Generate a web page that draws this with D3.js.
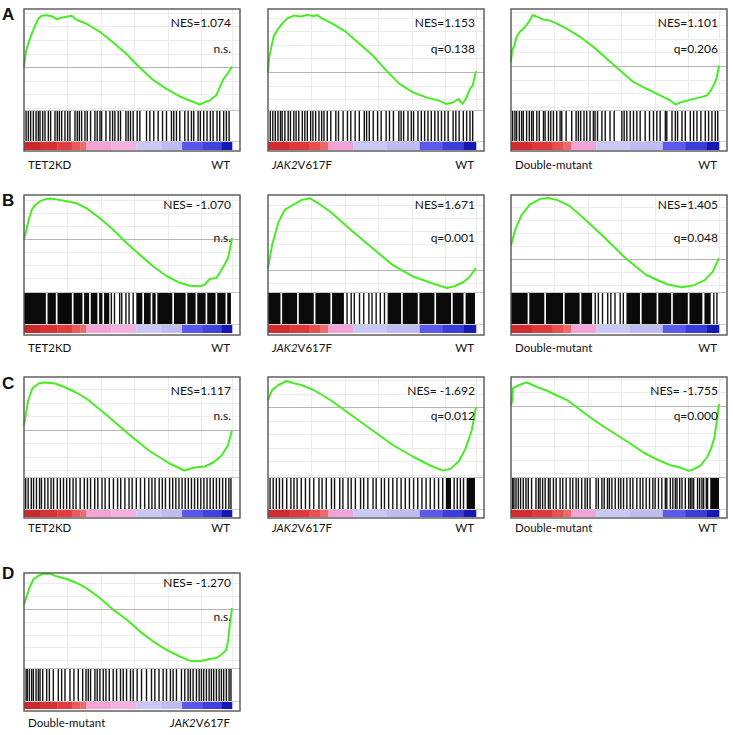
<!DOCTYPE html>
<html>
<head>
<meta charset="utf-8">
<script src="https://cdn.jsdelivr.net/npm/d3@7"></script>
<style>
  body { margin: 0; background: #fff; }
  svg { display: block; }
</style>
</head>
<body>
<div id="chart"></div>
<script>
// GSEA enrichment plots, 4 rows (A-D) x up to 3 columns.
// Running enrichment score: [rank percentile, ES]

const esA1 = [[0,0],[1,0.16],[2,0.23],[3.7,0.33],[5.3,0.41],[6.9,0.48],[8.5,0.51],[10.9,0.515],[13.3,0.505],[15.7,0.475],[18,0.49],[20.5,0.5],[22.9,0.51],[25.3,0.47],[30,0.43],[36.5,0.35],[42.9,0.245],[49.3,0.13],[55.7,-0.005],[62,-0.125],[68.5,-0.215],[74.9,-0.29],[79.7,-0.33],[84.5,-0.37],[86.9,-0.345],[89.3,-0.33],[92.5,-0.275],[95.7,-0.125],[98.1,-0.055],[100,0.005]];
const esA2 = [[0,0],[0.6,0.15],[1.6,0.25],[2.7,0.35],[4.4,0.415],[6.8,0.48],[9.2,0.53],[12.4,0.56],[15.6,0.55],[18.9,0.565],[22.1,0.555],[23.7,0.565],[26.1,0.53],[31,0.48],[37.4,0.4],[43.9,0.28],[50.3,0.166],[56.8,0.017],[63.2,-0.116],[69.7,-0.2],[76.1,-0.25],[81.8,-0.28],[85.8,-0.315],[89,-0.3],[91.5,-0.266],[93.5,-0.315],[95.5,-0.25],[97.1,-0.166],[98.4,-0.133],[100,0.01]];
const esA3 = [[0,0.04],[0.5,0.156],[1.4,0.19],[2.7,0.29],[4.3,0.34],[5.9,0.37],[7.5,0.405],[9.1,0.455],[10.4,0.505],[12.4,0.49],[15.6,0.46],[18.8,0.45],[22,0.42],[26.8,0.37],[33.2,0.29],[39.6,0.19],[46.1,0.073],[52.5,-0.043],[58.9,-0.16],[65.3,-0.226],[71.7,-0.29],[76.6,-0.34],[79,-0.38],[83,-0.35],[87.8,-0.325],[91,-0.31],[94.2,-0.29],[96.1,-0.24],[97.8,-0.176],[99,-0.11],[100,0.007]];
const esB1 = [[0,0],[1,0.08],[2,0.18],[3.7,0.3],[5.3,0.35],[7.7,0.39],[10,0.41],[12.5,0.42],[15.7,0.41],[20.5,0.39],[25.3,0.37],[30,0.32],[36.5,0.216],[42.9,0.096],[49.3,-0.04],[55.7,-0.16],[62,-0.28],[68.5,-0.38],[74.9,-0.45],[79.7,-0.48],[84.5,-0.486],[86.9,-0.47],[89.3,-0.41],[92.5,-0.4],[94,-0.35],[96.5,-0.26],[98.1,-0.195],[99,-0.11],[100,0.01]];
const esB2 = [[0,0.02],[2,0.26],[5,0.49],[8,0.62],[12,0.67],[16,0.72],[20,0.74],[24,0.69],[30,0.6],[40,0.41],[50,0.23],[60,0.05],[70,-0.07],[80,-0.144],[86,-0.186],[90,-0.165],[94,-0.124],[97,-0.07],[100,0.02]];
const esB3 = [[0,0.14],[2,0.3],[5,0.45],[9,0.56],[14,0.62],[18,0.63],[22,0.61],[28,0.55],[35,0.42],[45,0.22],[55,0.01],[65,-0.165],[75,-0.26],[82,-0.29],[88,-0.27],[93,-0.22],[97,-0.13],[100,0.01]];
const esC1 = [[0,0.04],[2,0.29],[4,0.41],[7,0.46],[10,0.47],[15,0.46],[20,0.42],[25,0.37],[30,0.31],[40,0.14],[50,-0.04],[60,-0.21],[70,-0.34],[77,-0.41],[82,-0.38],[87,-0.37],[91,-0.33],[95,-0.26],[98,-0.16],[100,-0.01]];
const esC2 = [[0,0.07],[2,0.17],[5,0.22],[9,0.26],[12,0.24],[16,0.22],[22,0.17],[30,0.07],[40,-0.08],[50,-0.23],[60,-0.38],[70,-0.5],[78,-0.585],[84,-0.636],[88,-0.616],[92,-0.535],[95,-0.414],[98,-0.23],[100,0]];
const esC3 = [[0,0],[0.6,0.05],[1,0.175],[3.5,0.2],[5.9,0.22],[7.5,0.23],[9.9,0.21],[12.4,0.185],[17.2,0.15],[22,0.1],[26.8,0.057],[31.6,-0.017],[38,-0.117],[44.5,-0.21],[50.9,-0.295],[57.3,-0.38],[63.7,-0.47],[70.1,-0.54],[76.6,-0.597],[81.4,-0.62],[85.4,-0.654],[87.8,-0.637],[91,-0.604],[94.2,-0.52],[96.1,-0.436],[97.8,-0.32],[99,-0.15],[100,0.017]];
const esD1 = [[0,0.046],[1.3,0.133],[2.9,0.24],[4.5,0.31],[6.9,0.35],[9.3,0.37],[12.5,0.37],[15.7,0.344],[20.5,0.316],[25.3,0.274],[30,0.22],[36.5,0.116],[42.9,-0.007],[49.3,-0.11],[55.7,-0.235],[62,-0.34],[68.5,-0.43],[74.9,-0.5],[79.7,-0.544],[84.5,-0.55],[89.3,-0.526],[92.5,-0.516],[94.9,-0.48],[97.3,-0.43],[98.2,-0.32],[98.9,-0.18],[100,0.01]];

// ES axis range shown in each plot [bottom, top]
const esDomains = {
  A1: [-0.424, 0.576], A2: [-0.375, 0.625], A3: [-0.435, 0.565],
  B1: [-0.545, 0.455], B2: [-0.227, 0.773], B3: [-0.34, 0.66],
  C1: [-0.475, 0.525], C2: [-0.70, 0.30], C3: [-0.715, 0.285],
  D1: [-0.621, 0.379]
};

// Hit positions (rank percentile); [from, to] = solid run of hits
const hitsA1 = [1.0,2.1,3.2,4.5,5.8,6.9,7.7,9.0,10.1,11.7,12.8,14.9,16.0,17.0,18.1,19.7,21.0,22.1,24.5,25.6,26.6,27.7,29.3,30.4,32.0,34.1,35.2,36.5,37.3,39.4,41.3,42.6,43.7,45.3,46.4,49.0,50.1,51.2,52.5,54.4,55.7,58.9,60.5,62.4,64.5,66.6,68.5,70.9,72.0,73.3,74.9,77.3,78.9,80.5,81.6,83.7,84.8,86.4,88.0,89.6,90.9,92.8,94.1,96.0,97.3,98.6];
const hitsA2 = [1.1,2.3,3.5,4.8,6.0,6.8,8.1,9.7,10.8,12.4,13.5,14.8,16.5,17.7,18.9,20.5,21.6,22.9,24.5,25.8,26.9,28.5,30.2,32.6,33.9,36.1,38.2,39.8,41.9,43.9,46.3,47.4,48.7,50.6,52.7,54.4,56.8,58.4,60.3,62.9,64.0,65.2,67.3,68.9,70.0,72.1,73.7,75.3,76.9,78.5,80.2,81.8,83.4,85.0,86.6,89.0,90.3,91.9,93.9,95.5,97.1,98.4];
const hitsA3 = [0.8,1.9,2.7,4.0,5.1,5.9,7.5,8.8,9.9,10.7,12.4,13.6,15.6,16.4,18.0,19.1,20.4,22.0,23.6,24.4,26.5,29.2,31.3,32.4,33.5,35.1,36.4,38.0,39.6,40.4,41.6,43.7,45.3,47.6,49.6,53.3,54.4,55.7,57.3,58.9,60.5,62.1,64.5,66.6,68.5,70.1,71.7,74.2,74.9,77.4,79.0,80.1,82.2,83.8,86.2,87.8,89.4,91.3,93.4,95.0,96.6,98.2,99.4];
const hitsB1 = [[0,10.5],[11.3,15.3],[16.1,23],[23.8,28.1],[28.9,31.3],[32.1,35.3],[36.1,37.7],[38.5,41],42,43.5,46,47,49,50.5,52.5,[54,56.9],[57.7,60.9],[61.7,63.3],[64.1,71.3],[72.1,77.7],[78.5,82.5],[83.3,87.3],[88.1,92.1],[92.9,96.9],[97.7,99.5]];
const hitsB2 = [[0,6],[6.8,14],[14.8,22],[22.8,30],[30.8,36.5],38,40,41.5,44,46,48.5,50,52,54,56,[57.5,64],[64.8,72],[72.8,80],[80.8,88],[88.8,94],[95,99.5]];
const hitsB3 = [[0,8],[8.8,16],[16.8,25],[25.8,33],[33.8,39],40.5,42,44,46.5,48,50,52.5,54,[55.5,62],[62.8,70],[70.8,77],[77.8,85],[85.8,92],[93,96],97.5,99];
const hitsC1 = [0.8,2.0,3.5,4.6,6.0,7.5,8.4,10.0,11.5,13.0,14.2,16.0,17.5,19.0,20.5,22.0,23.6,25.0,27.0,29.0,30.5,32.0,34.0,35.5,37.5,39.0,41.0,43.0,45.0,46.5,48.5,50.5,52.0,54.0,56.0,58.0,60.0,61.5,63.0,65.0,66.5,68.0,70.0,71.5,73.0,74.5,76.0,77.5,79.0,80.5,82.0,83.5,85.0,86.5,88.0,89.5,91.0,92.5,94.0,95.5,97.0,98.5,99.5];
const hitsC2 = [1.0,2.5,4.0,5.5,7.0,9.0,11.0,12.5,14.0,16.0,18.0,20.0,22.0,24.5,26.0,28.0,30.5,32.0,34.5,36.0,38.5,40.0,42.0,44.5,46.0,48.0,50.5,52.0,54.5,56.0,58.0,60.0,62.0,64.0,66.0,68.0,70.0,72.0,74.0,76.0,78.0,80.0,82.0,84.0,[85.5,88],89.5,91.0,92.5,94.0,[95.5,99.5]];
const hitsC3 = [0.8,1.4,2.4,3.5,4.6,5.9,7.2,8.3,9.9,12.0,13.2,14.0,15.2,16.4,18.0,18.8,20.4,21.7,23.6,24.9,26.5,28.4,29.7,31.3,32.4,34.0,35.6,36.7,38.0,40.9,42.0,43.7,44.8,46.4,47.3,48.5,50.1,51.7,52.8,54.1,55.7,57.3,58.6,60.5,62.1,63.4,65.0,66.6,68.2,69.3,70.9,72.5,74.2,74.9,76.6,77.8,79.0,79.8,81.1,82.2,83.8,85.4,86.2,87.0,87.8,89.7,90.7,91.8,92.6,93.9,94.5,[95.8,100]];
const hitsD1 = [1.0,1.6,2.6,3.7,4.5,5.8,6.9,7.7,9.0,10.9,12.2,14.1,16.5,18.1,19.7,22.1,24.0,26.1,28.2,29.8,30.9,32.0,34.1,35.2,36.5,38.1,39.4,41.0,42.9,44.5,46.4,47.7,49.3,51.2,52.5,54.4,56.5,58.9,61.3,62.9,64.9,66.9,68.5,70.4,71.7,73.3,75.7,77.3,78.9,80.0,81.3,82.9,84.2,85.3,86.4,87.7,89.0,90.1,91.2,92.5,93.8,94.9,96.0,97.3,98.6,99.5];

// Ranked-list colour bar: [start percentile, colour]
const rankBarLeft = [[0,'#c9282d'],[8,'#d83236'],[16,'#e13c40'],[23,'#e85a5c'],[27,'#ec6c6c'],[30,'#f3a3d6'],[42,'#f5b0e0'],[54,'#c9c9f5'],[66,'#bdbdf2'],[76,'#5858ec'],[86,'#4141de'],[95,'#1616b2']];
const rankBarRight = [[0,'#d52b30'],[10,'#df383c'],[20,'#e85050'],[25,'#ee6a6a'],[29,'#f2a4d8'],[41,'#c9c9f5'],[57,'#bdbdf2'],[73,'#5a5aec'],[84,'#3c3cdc'],[94,'#1818b2']];

const panelIds = ['A1','A2','A3','B1','B2','B3','C1','C2','C3','D1'];
const nesLabels = ['NES=1.074','NES=1.153','NES=1.101','NES= -1.070','NES=1.671','NES=1.405','NES=1.117','NES= -1.692','NES= -1.755','NES= -1.270'];
const qLabels = ['n.s.','q=0.138','q=0.206','n.s.','q=0.001','q=0.048','n.s.','q=0.012','q=0.000','n.s.'];
const leftLabels = ['TET2KD','*JAK2*V617F','Double-mutant','TET2KD','*JAK2*V617F','Double-mutant','TET2KD','*JAK2*V617F','Double-mutant','Double-mutant'];
const rightLabels = ['WT','WT','WT','WT','WT','WT','WT','WT','WT','*JAK2*V617F'];
const rowLetters = ['A','B','C','D'];

const curves = { A1: esA1, A2: esA2, A3: esA3, B1: esB1, B2: esB2, B3: esB3, C1: esC1, C2: esC2, C3: esC3, D1: esD1 };
const hits = { A1: hitsA1, A2: hitsA2, A3: hitsA3, B1: hitsB1, B2: hitsB2, B3: hitsB3, C1: hitsC1, C2: hitsC2, C3: hitsC3, D1: hitsD1 };

// ---- layout ----
const W = 733, H = 735;
const PANEL_W = 216;
const DATA_W = 208;           // ranked list ends a bit before the right border
const COL_X = [24, 268, 511];
const ROWS = [
  { top: 9,   curveH: 101, barH: 31, cbH: 9, boxH: 142, letterY: 20,  nesDy: 18, qDy: 44, labelY: 169 },
  { top: 195, curveH: 97,  barH: 32, cbH: 9, boxH: 140, letterY: 206, nesDy: 14, qDy: 47, labelY: 352 },
  { top: 377, curveH: 100, barH: 32, cbH: 8, boxH: 141, letterY: 389, nesDy: 18, qDy: 43, labelY: 532 },
  { top: 573, curveH: 95,  barH: 33, cbH: 8, boxH: 138, letterY: 579, nesDy: 14, qDy: 48, labelY: 727 },
];
const FONT = 'Lato, "Open Sans", sans-serif';
const GREEN = '#48ec24';

const svg = d3.select('#chart').append('svg')
  .attr('width', W).attr('height', H)
  .attr('viewBox', `0 0 ${W} ${H}`);

function richText(sel, s) {
  // "*JAK2*V617F" -> italic JAK2 + upright V617F
  const parts = s.split('*');
  parts.forEach((t, i) => {
    if (!t) return;
    sel.append('tspan').attr('font-style', i % 2 === 1 ? 'italic' : 'normal').text(t);
  });
}

rowLetters.forEach((L, i) => {
  svg.append('text')
    .attr('x', 2).attr('y', ROWS[i].letterY)
    .attr('font-family', 'Arial, "Liberation Sans", sans-serif')
    .attr('font-weight', 'bold').attr('font-size', 17)
    .attr('fill', '#111')
    .text(L);
});

panelIds.forEach((id, idx) => {
  const row = 'ABCD'.indexOf(id[0]);
  const col = +id[1] - 1;
  const R = ROWS[row];
  const g = svg.append('g').attr('transform', `translate(${COL_X[col]},${R.top})`);

  const x = d3.scaleLinear().domain([0, 100]).range([0, DATA_W]);
  const y = d3.scaleLinear().domain(esDomains[id]).range([R.curveH, 0]);

  // faint grid in the ES area
  const [lo, hi] = esDomains[id];
  const gridY = d3.range(0.135, hi, 0.135).concat(d3.range(-0.135, lo, -0.135));
  g.append('g').selectAll('line').data(gridY).join('line')
    .attr('x1', 0).attr('x2', PANEL_W)
    .attr('y1', d => Math.round(y(d)) + 0.5).attr('y2', d => Math.round(y(d)) + 0.5)
    .attr('stroke', '#ececec').attr('stroke-width', 1);
  const gridX = [20.5, 37, 53, 69, 85, 100];
  g.append('g').selectAll('line').data(gridX).join('line')
    .attr('x1', d => Math.round(x(d)) + 0.5).attr('x2', d => Math.round(x(d)) + 0.5)
    .attr('y1', 0).attr('y2', R.curveH)
    .attr('stroke', '#ececec').attr('stroke-width', 1);

  // zero line
  g.append('line')
    .attr('x1', 0).attr('x2', PANEL_W)
    .attr('y1', Math.round(y(0)) + 0.5).attr('y2', Math.round(y(0)) + 0.5)
    .attr('stroke', '#b4b4b4').attr('stroke-width', 1);

  // separator between ES area and hits
  g.append('line')
    .attr('x1', 0).attr('x2', PANEL_W)
    .attr('y1', R.curveH + 0.5).attr('y2', R.curveH + 0.5)
    .attr('stroke', '#c4c4c4').attr('stroke-width', 1);

  // running ES curve
  g.append('path')
    .datum(curves[id])
    .attr('d', d3.line().x(d => x(d[0])).y(d => y(d[1])))
    .attr('fill', 'none')
    .attr('stroke', GREEN).attr('stroke-width', 2)
    .attr('stroke-linejoin', 'round');

  // hits barcode
  const hy0 = R.curveH + 1, hh = R.barH - 1;
  const hg = g.append('g');
  hits[id].forEach(h => {
    if (Array.isArray(h)) {
      hg.append('rect')
        .attr('x', x(h[0])).attr('y', hy0)
        .attr('width', Math.max(1, x(h[1]) - x(h[0]))).attr('height', hh)
        .attr('fill', '#0a0a0a');
    } else {
      hg.append('rect')
        .attr('x', x(h) - 0.7).attr('y', hy0)
        .attr('width', 1.4).attr('height', hh)
        .attr('fill', '#141414');
    }
  });

  // colour bar of the ranked list
  const cbTop = R.curveH + R.barH;
  g.append('line')
    .attr('x1', 0).attr('x2', PANEL_W)
    .attr('y1', cbTop + 0.5).attr('y2', cbTop + 0.5)
    .attr('stroke', '#cfcfcf');
  const stops = (col === 0) ? rankBarLeft : rankBarRight;
  g.append('g').selectAll('rect').data(stops).join('rect')
    .attr('x', d => x(d[0]))
    .attr('y', cbTop + 1)
    .attr('width', (d, i) => x(i + 1 < stops.length ? stops[i + 1][0] : 100) - x(d[0]) + 0.3)
    .attr('height', R.cbH - 1)
    .attr('fill', d => d[1]);

  // frame
  g.append('rect')
    .attr('x', 0).attr('y', 0)
    .attr('width', PANEL_W).attr('height', R.boxH)
    .attr('fill', 'none').attr('stroke', '#555').attr('stroke-width', 1.4);

  // NES / q
  g.append('text')
    .attr('x', DATA_W - 1).attr('y', R.nesDy)
    .attr('text-anchor', 'end')
    .attr('font-family', FONT).attr('font-size', 12).attr('fill', '#111')
    .text(nesLabels[idx]);
  g.append('text')
    .attr('x', DATA_W - 1).attr('y', R.qDy)
    .attr('text-anchor', 'end')
    .attr('font-family', FONT).attr('font-size', 12).attr('fill', '#111')
    .text(qLabels[idx]);

  // phenotype labels under the plot
  const lt = g.append('text')
    .attr('x', 4).attr('y', R.labelY - R.top)
    .attr('font-family', FONT).attr('font-size', 11.5).attr('fill', '#111');
  richText(lt, leftLabels[idx]);
  const rt = g.append('text')
    .attr('x', DATA_W - 2).attr('y', R.labelY - R.top)
    .attr('text-anchor', 'end')
    .attr('font-family', FONT).attr('font-size', 11.5).attr('fill', '#111');
  richText(rt, rightLabels[idx]);
});
</script>
</body>
</html>
